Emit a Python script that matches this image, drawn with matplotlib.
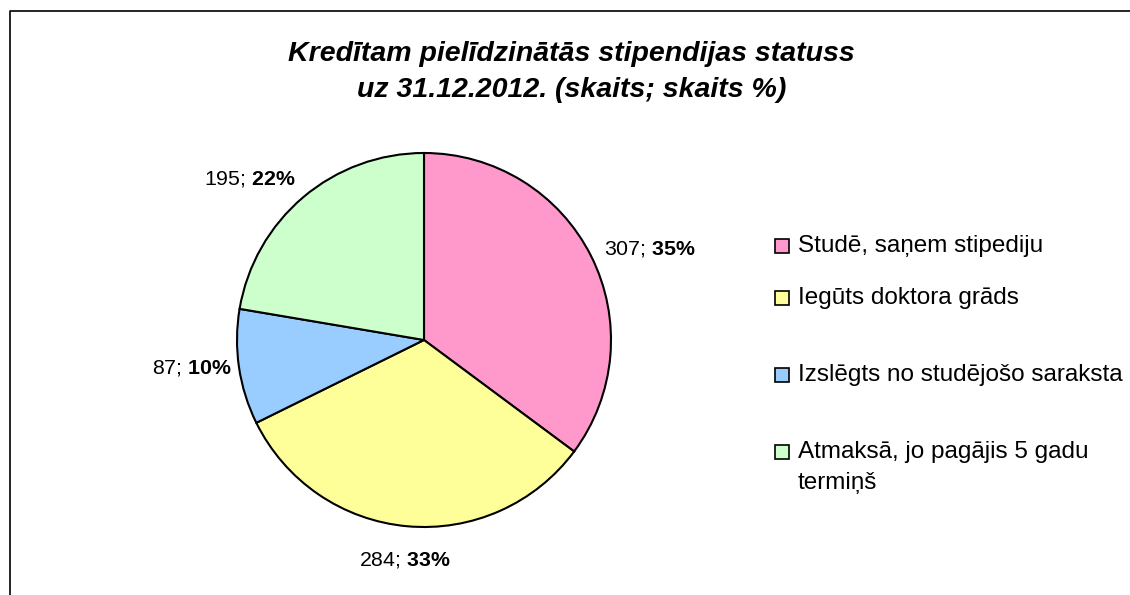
import matplotlib
matplotlib.use("Agg")
import numpy as np
from matplotlib import pyplot as plt
from matplotlib.patches import Rectangle
from matplotlib.lines import Line2D

plt.rcParams['font.family'] = ['Liberation Sans', 'DejaVu Sans']
plt.rcParams['mathtext.fontset'] = 'custom'
plt.rcParams['mathtext.rm'] = 'Liberation Sans'
plt.rcParams['mathtext.bf'] = 'Liberation Sans:bold'

TITLE = 'Kredītam pielīdzinātās stipendijas statuss\nuz 31.12.2012. (skaits; skaits %)'
categories = ['Studē, saņem stipediju',
              'Iegūts doktora grāds',
              'Izslēgts no studējošo saraksta',
              'Atmaksā, jo pagājis 5 gadu\ntermiņš']
counts = [307, 284, 87, 195]
colors = ['#FF99CC', '#FFFF99', '#99CCFF', '#CCFFCC']
label_dist = [1.08, 1.13, 1.04, 1.06]

W, H = 1130, 595
fig = plt.figure(figsize=(W / 100, H / 100), dpi=100)

# pie centre / radius in pixels
cx, cy, r = 424, 340, 187
ax = fig.add_axes([(cx - r) / W, (H - cy - r) / H, 2 * r / W, 2 * r / H])
wedges, _ = ax.pie(counts, colors=colors, startangle=90, counterclock=False,
                   wedgeprops=dict(edgecolor='black', linewidth=1.5))
ax.set_xlim(-1, 1)
ax.set_ylim(-1, 1)
ax.set_aspect('equal')
ax.axis('off')

total = sum(counts)
for w, n, d in zip(wedges, counts, label_dist):
    mid = np.deg2rad((w.theta1 + w.theta2) / 2)
    c, s = np.cos(mid), np.sin(mid)
    ha = 'left' if c > 0.2 else ('right' if c < -0.2 else 'center')
    va = 'bottom' if s > 0.6 else ('top' if s < -0.6 else 'center')
    pct = round(100 * n / total)
    ax.text(d * c, d * s, f'{n}; $\\mathbf{{{pct}\\%}}$',
            ha=ha, va=va, fontsize=15.4, clip_on=False)

fig.text(0.506, (H - 72) / H, TITLE, ha='center', va='center', fontsize=20.5,
         fontweight='bold', fontstyle='italic', linespacing=1.48)

# legend
leg_y = [246, 298, 375, 452]
for lab, col, y in zip(categories, colors, leg_y):
    fig.patches.append(Rectangle((775 / W, (H - y - 7) / H), 14 / W, 14 / H,
                                 transform=fig.transFigure, facecolor=col,
                                 edgecolor='black', linewidth=1.2))
    for i, part in enumerate(lab.split('\n')):
        fig.text(798 / W, (H - y - 31 * i) / H, part, ha='left', va='center',
                 fontsize=17.5)

# frame (only left and top edges visible)
fig.add_artist(Line2D([10 / W, 10 / W, 1.0], [0, (H - 11) / H, (H - 11) / H],
                      transform=fig.transFigure, color='black', linewidth=1.2))

fig.savefig('out.png', dpi=100)
